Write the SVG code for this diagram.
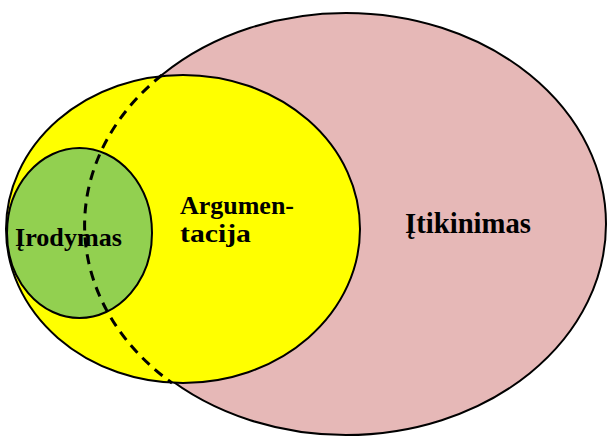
<svg xmlns="http://www.w3.org/2000/svg" width="607" height="436" viewBox="0 0 607 436">
<style>
.shape{stroke:#000;stroke-width:2}
.lbl{font-family:"Liberation Serif","Times New Roman",serif;font-weight:bold;fill:#000}
.dash{fill:none;stroke:#000;stroke-width:3;stroke-dasharray:10 7}
</style>
<rect width="607" height="436" fill="#fff"/>
<g id="itikinimas">
<ellipse class="shape" cx="346" cy="224" rx="260" ry="211" fill="#E6B8B7"/>
</g>
<g id="argumentacija">
<ellipse class="shape" cx="183" cy="229" rx="177" ry="154" fill="#FFFF00"/>
</g>
<g id="irodymas">
<ellipse class="shape" cx="79.5" cy="233" rx="72.5" ry="85" fill="#92D050"/>
</g>
<g id="connectors">
<path class="dash" d="M162 75 A260 211 0 0 0 172 383"/>
</g>
<g id="labels">
<text class="lbl" x="15" y="246" font-size="26" textLength="107" lengthAdjust="spacingAndGlyphs">Įrodymas</text>
<text class="lbl" x="180" y="214" font-size="25" textLength="114" lengthAdjust="spacingAndGlyphs">Argumen-</text>
<text class="lbl" x="180" y="242" font-size="25" textLength="71" lengthAdjust="spacingAndGlyphs">tacija</text>
<text class="lbl" x="405" y="233" font-size="29" textLength="126" lengthAdjust="spacingAndGlyphs">Įtikinimas</text>
</g>
</svg>
